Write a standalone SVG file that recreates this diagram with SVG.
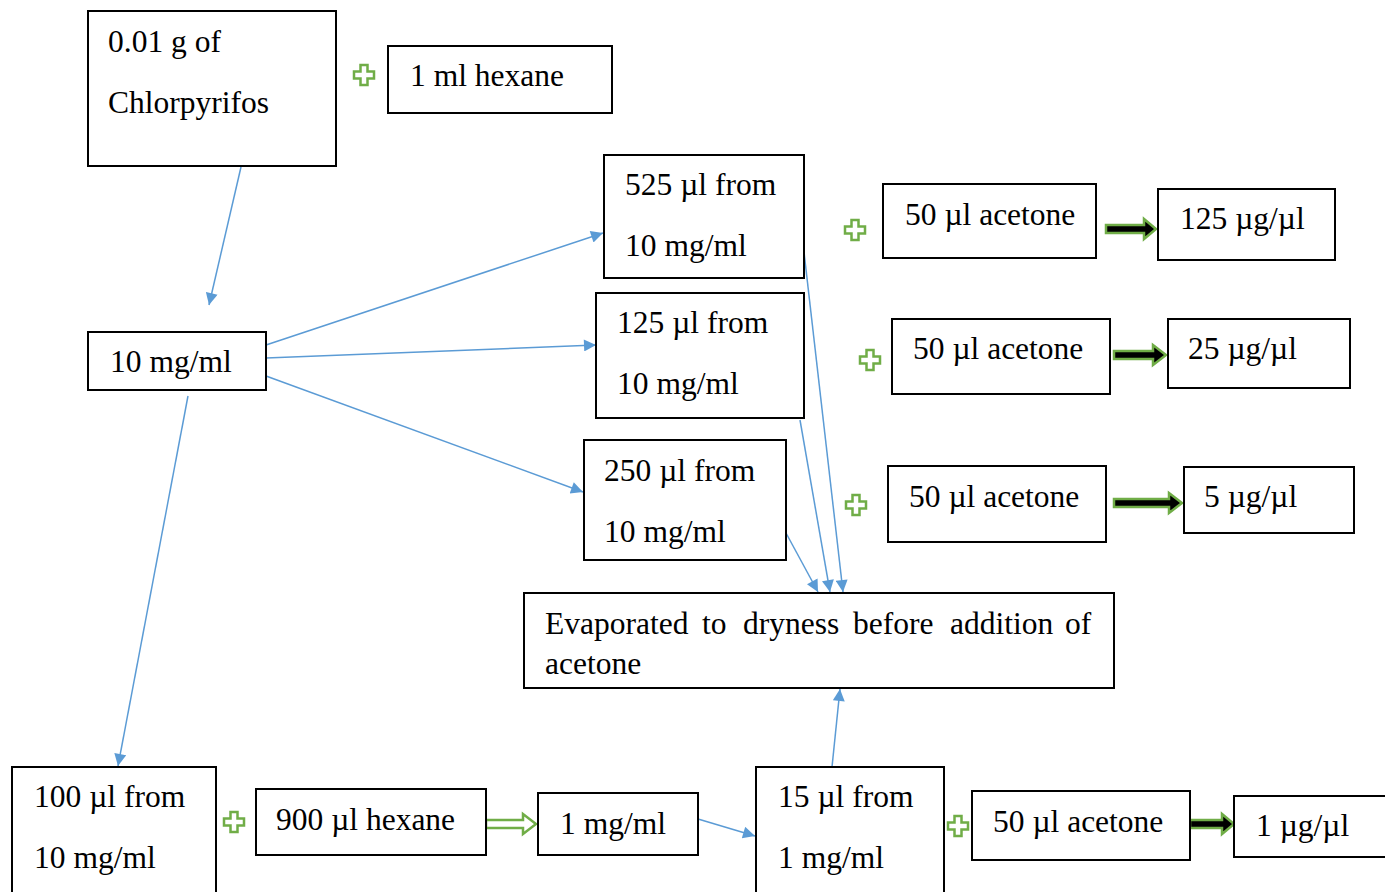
<svg xmlns="http://www.w3.org/2000/svg" width="1385" height="892" viewBox="0 0 1385 892">
  <defs>
    <style>
      .box { fill: #ffffff; stroke: #000000; stroke-width: 2; }
      .lbl { font-family: "Liberation Serif", "Times New Roman", serif; font-size: 31.5px; fill: #000000; }
      .plus { fill: #ffffff; stroke: #70ad47; stroke-width: 2.5; }
      .fat { fill: #000000; stroke: #70ad47; stroke-width: 2.5; }
      .hollow { fill: #ffffff; stroke: #70ad47; stroke-width: 2.5; }
      .link { fill: none; stroke: #5b9bd5; stroke-width: 1.5; marker-end: url(#tip); }
    </style>
    <marker id="tip" viewBox="0 0 10 10" refX="10" refY="5" markerWidth="13" markerHeight="12" markerUnits="userSpaceOnUse" orient="auto">
      <path d="M0,0 L10,5 L0,10 Z" fill="#5b9bd5"/>
    </marker>
    <!-- green outlined cross, centred on 0,0 -->
    <path id="cross" d="M-3.5,-10 H3.5 V-3.5 H10 V3.5 H3.5 V10 H-3.5 V3.5 H-10 V-3.5 H-3.5 Z"/>
  </defs>

  <!-- connectors -->
  <g id="connectors">
    <line class="link" x1="241" y1="167" x2="209" y2="305"/>
    <line class="link" x1="266" y1="345" x2="603" y2="233"/>
    <line class="link" x1="266" y1="358" x2="596" y2="345"/>
    <line class="link" x1="266" y1="376" x2="583" y2="492"/>
    <line class="link" x1="188" y1="396" x2="118" y2="766"/>
    <line class="link" x1="804" y1="252" x2="843" y2="592"/>
    <line class="link" x1="800" y1="420" x2="830" y2="592"/>
    <line class="link" x1="786" y1="533" x2="818" y2="592"/>
    <line class="link" x1="698" y1="819" x2="755" y2="836"/>
    <line class="link" x1="832" y1="767" x2="840" y2="689"/>
  </g>

  <!-- plus signs -->
  <g id="plus-signs">
    <use href="#cross" class="plus" x="364" y="75"/>
    <use href="#cross" class="plus" x="855" y="230"/>
    <use href="#cross" class="plus" x="870" y="360"/>
    <use href="#cross" class="plus" x="856" y="505"/>
    <use href="#cross" class="plus" x="234" y="822"/>
    <use href="#cross" class="plus" x="958" y="826"/>
  </g>

  <!-- block arrows -->
  <g id="block-arrows">
    <path class="fat" d="M1106,225 H1144 V219 L1156,229 L1144,239 V233 H1106 Z"/>
    <path class="fat" d="M1114,351 H1153 V345 L1166,355 L1153,365 V359 H1114 Z"/>
    <path class="fat" d="M1114,499 H1169 V493 L1182,503 L1169,513 V507 H1114 Z"/>
    <path class="fat" d="M1190,820 H1222 V814 L1234,824 L1222,834 V828 H1190 Z"/>
    <path class="hollow" d="M486,820 H523 V814 L536,824 L523,834 V828 H486 Z"/>
  </g>

  <g id="n-stock">
    <rect class="box" x="88" y="11" width="248" height="155"/>
    <text class="lbl" x="108" y="52">0.01 g of</text>
    <text class="lbl" x="108" y="113">Chlorpyrifos</text>
  </g>
  <g id="n-hexane1">
    <rect class="box" x="388" y="46" width="224" height="67"/>
    <text class="lbl" x="410" y="86">1 ml hexane</text>
  </g>
  <g id="n-10mgml">
    <rect class="box" x="88" y="332" width="178" height="58"/>
    <text class="lbl" x="110" y="372">10 mg/ml</text>
  </g>

  <g id="n-525">
    <rect class="box" x="604" y="155" width="200" height="123"/>
    <text class="lbl" x="625" y="195">525 µl from</text>
    <text class="lbl" x="625" y="256">10 mg/ml</text>
  </g>
  <g id="n-acetone-a">
    <rect class="box" x="883" y="184" width="213" height="74"/>
    <text class="lbl" x="905" y="225">50 µl acetone</text>
  </g>
  <g id="n-125ugul">
    <rect class="box" x="1158" y="189" width="177" height="71"/>
    <text class="lbl" x="1180" y="229">125 µg/µl</text>
  </g>

  <g id="n-125">
    <rect class="box" x="596" y="293" width="208" height="125"/>
    <text class="lbl" x="617" y="333">125 µl from</text>
    <text class="lbl" x="617" y="394">10 mg/ml</text>
  </g>
  <g id="n-acetone-b">
    <rect class="box" x="892" y="319" width="218" height="75"/>
    <text class="lbl" x="913" y="359">50 µl acetone</text>
  </g>
  <g id="n-25ugul">
    <rect class="box" x="1168" y="319" width="182" height="69"/>
    <text class="lbl" x="1188" y="359">25 µg/µl</text>
  </g>

  <g id="n-250">
    <rect class="box" x="584" y="440" width="202" height="120"/>
    <text class="lbl" x="604" y="481">250 µl from</text>
    <text class="lbl" x="604" y="542">10 mg/ml</text>
  </g>
  <g id="n-acetone-c">
    <rect class="box" x="888" y="466" width="218" height="76"/>
    <text class="lbl" x="909" y="507">50 µl acetone</text>
  </g>
  <g id="n-5ugul">
    <rect class="box" x="1184" y="467" width="170" height="66"/>
    <text class="lbl" x="1204" y="507">5 µg/µl</text>
  </g>

  <g id="n-evaporate">
    <rect class="box" x="524" y="593" width="590" height="95"/>
    <!-- justified first line: each word placed on its own -->
    <text class="lbl" y="634"><tspan x="545">Evaporated</tspan><tspan x="702">to</tspan><tspan x="743">dryness</tspan><tspan x="853">before</tspan><tspan x="950">addition</tspan><tspan x="1065">of</tspan></text>
    <text class="lbl" x="545" y="674">acetone</text>
  </g>

  <g id="n-100">
    <rect class="box" x="12" y="767" width="204" height="130"/>
    <text class="lbl" x="34" y="807">100 µl from</text>
    <text class="lbl" x="34" y="868">10 mg/ml</text>
  </g>
  <g id="n-hexane2">
    <rect class="box" x="256" y="789" width="230" height="66"/>
    <text class="lbl" x="276" y="830">900 µl hexane</text>
  </g>
  <g id="n-1mgml">
    <rect class="box" x="538" y="793" width="160" height="62"/>
    <text class="lbl" x="560" y="834">1 mg/ml</text>
  </g>
  <g id="n-15">
    <rect class="box" x="756" y="767" width="188" height="130"/>
    <text class="lbl" x="778" y="807">15 µl from</text>
    <text class="lbl" x="778" y="868">1 mg/ml</text>
  </g>
  <g id="n-acetone-d">
    <rect class="box" x="972" y="791" width="218" height="69"/>
    <text class="lbl" x="993" y="832">50 µl acetone</text>
  </g>
  <g id="n-1ugul">
    <rect class="box" x="1234" y="796" width="160" height="61"/>
    <text class="lbl" x="1256" y="836">1 µg/µl</text>
  </g>
</svg>
